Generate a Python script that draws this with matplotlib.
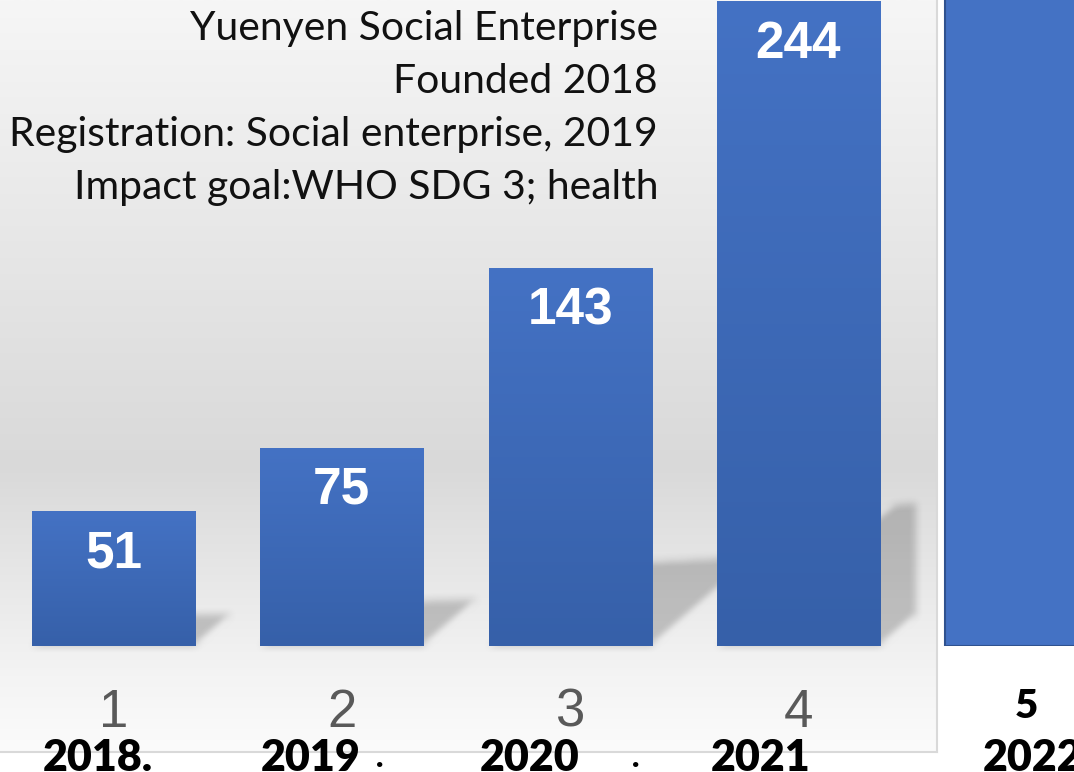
import numpy as np
import matplotlib
matplotlib.use('Agg')
import matplotlib.pyplot as plt
import matplotlib.transforms as mtransforms
from matplotlib.colors import LinearSegmentedColormap
from matplotlib.patches import Polygon, Rectangle

# 数据
positions = ["1", "2", "3", "4", "5"]
years = ["2018.", "2019", "2020", "2021", "2022"]
values = [51, 75, 143, 244, 330]
info_lines = [
    "Yuenyen Social Enterprise",
    "Founded 2018",
    "Registration: Social enterprise, 2019",
    "Impact goal:WHO SDG 3; health",
]

# 年份文字相对柱中心的偏移 (像素) 以及年份后面零散的句点
year_shift = [-71, -81, -90, -88, -44]
dot_shift = [None, 38, 66, None, None]

W, H = 1074, 772
fig = plt.figure(figsize=(W / 100, H / 100), dpi=100)
fig.patch.set_facecolor('white')

# 灰色渐变背景板
bg = fig.add_axes([0, 20 / H, 937 / W, 752 / H])
panel_cmap = LinearSegmentedColormap.from_list(
    'panel', [(0, '#f6f6f6'), (0.62, '#d9d9d9'), (0.9, '#f4f4f4'), (1.0, '#fbfbfb')])
bg.imshow(np.linspace(0, 1, 256).reshape(-1, 1), cmap=panel_cmap, aspect='auto',
          extent=[0, 1, 0, 1])
bg.set_xlim(0, 1)
bg.set_ylim(0, 1)
bg.set_xticks([])
bg.set_yticks([])
for side in ['top', 'left']:
    bg.spines[side].set_visible(False)
for side in ['right', 'bottom']:
    bg.spines[side].set_color('#d9d9d9')
    bg.spines[side].set_linewidth(1.5)

# 主坐标轴
ax = fig.add_axes([0, 126 / H, 1, 646 / H])
ax.patch.set_alpha(0)
for s in ax.spines.values():
    s.set_visible(False)
ax.set_yticks([])

x = np.arange(len(values))
width = 0.714
xlim = (-113.5 / 228.3, (W - 113.5) / 228.3)
ylim = (0, 646 / 2.64)

bar_cmap = LinearSegmentedColormap.from_list('bar', ['#3660a9', '#4472c4'])
grad = np.linspace(0, 1, 256).reshape(-1, 1)

bars = ax.bar(x[:4], values[:4], width=width, color='none', zorder=3)
for b in bars:
    x0, w, h = b.get_x(), b.get_width(), b.get_height()
    ax.imshow(grad, cmap=bar_cmap, aspect='auto', origin='lower',
              extent=[x0, x0 + w, 0, h], zorder=3)

ax.bar(x[4], values[4], width=width, color='#4472c4', edgecolor='#2f528f',
       linewidth=1.5, zorder=3)

ax.set_xlim(*xlim)
ax.set_ylim(*ylim)

# 柱子的斜投影阴影
def soft_blur(img, dpi):
    pad = 14
    a = np.pad(img, ((pad, pad), (pad, pad), (0, 0)))
    r = 4
    for _ in range(2):
        for axis in (0, 1):
            acc = np.zeros_like(a)
            for s in range(-r, r + 1):
                acc += np.roll(a, s, axis=axis)
            a = acc / (2 * r + 1)
    return a, -pad, -pad

p0 = ax.transData.transform((0, 0))
p1 = ax.transData.transform((1, 1))
px_x, px_y = p1 - p0
clip = Rectangle((xlim[0], 0), 916 / px_x, 400, transform=ax.transData)

for b in bars:
    x0, x1, v = b.get_x(), b.get_x() + b.get_width(), b.get_height()
    h = 0.22 * v
    sx = 1.25 * h * px_y / px_x
    shadow = Polygon([(x0, 0), (x1, 0), (x1 + sx, h * 1.08), (x0 + sx, h)],
                     closed=True, facecolor='black', alpha=0.2, edgecolor='none',
                     zorder=2)
    ax.add_patch(shadow)
    shadow.set_clip_path(clip)
    shadow.set_agg_filter(soft_blur)

# 柱内数值
for xi, v in zip(x[:4], values[:4]):
    ax.annotate(str(v), (xi, v), xytext=(0, -30.6), textcoords='offset points',
                ha='center', va='center', color='white', fontsize=37,
                fontweight='bold', family='Liberation Sans', zorder=4)

# 序号刻度
ax.set_xticks(x)
ax.set_xticklabels(positions)
ax.tick_params(axis='x', length=0, pad=30, labelsize=38, labelcolor='#595959')
for lab in ax.get_xticklabels():
    lab.set_family('Liberation Sans')
last = ax.get_xticklabels()[-1]
last.set_family('Lato')
last.set_fontweight('heavy')
last.set_fontsize(29)
last.set_color('black')

# 年份
blend = mtransforms.blended_transform_factory(ax.transData, fig.transFigure)
for xi, yr, sh, dsh in zip(x, years, year_shift, dot_shift):
    off = mtransforms.offset_copy(blend, fig=fig, x=sh, y=0, units='dots')
    ax.text(xi, 1 / H, yr, transform=off, ha='left', va='baseline',
            family='Lato', fontweight='heavy', fontsize=31, color='black',
            clip_on=False)
    if dsh is not None:
        doff = mtransforms.offset_copy(blend, fig=fig, x=dsh, y=0, units='dots')
        ax.text(xi, 5 / H, '.', transform=doff, ha='center', va='baseline',
                family='Lato', fontweight='heavy', fontsize=22, color='black',
                clip_on=False)

# 左上角说明文字
for i, line in enumerate(info_lines):
    fig.text(658 / W, 1 - (40 + 53 * i) / H, line, ha='right', va='baseline',
             family='Lato', fontsize=29.4, color='#111111')

fig.savefig('out.png', dpi=100)
